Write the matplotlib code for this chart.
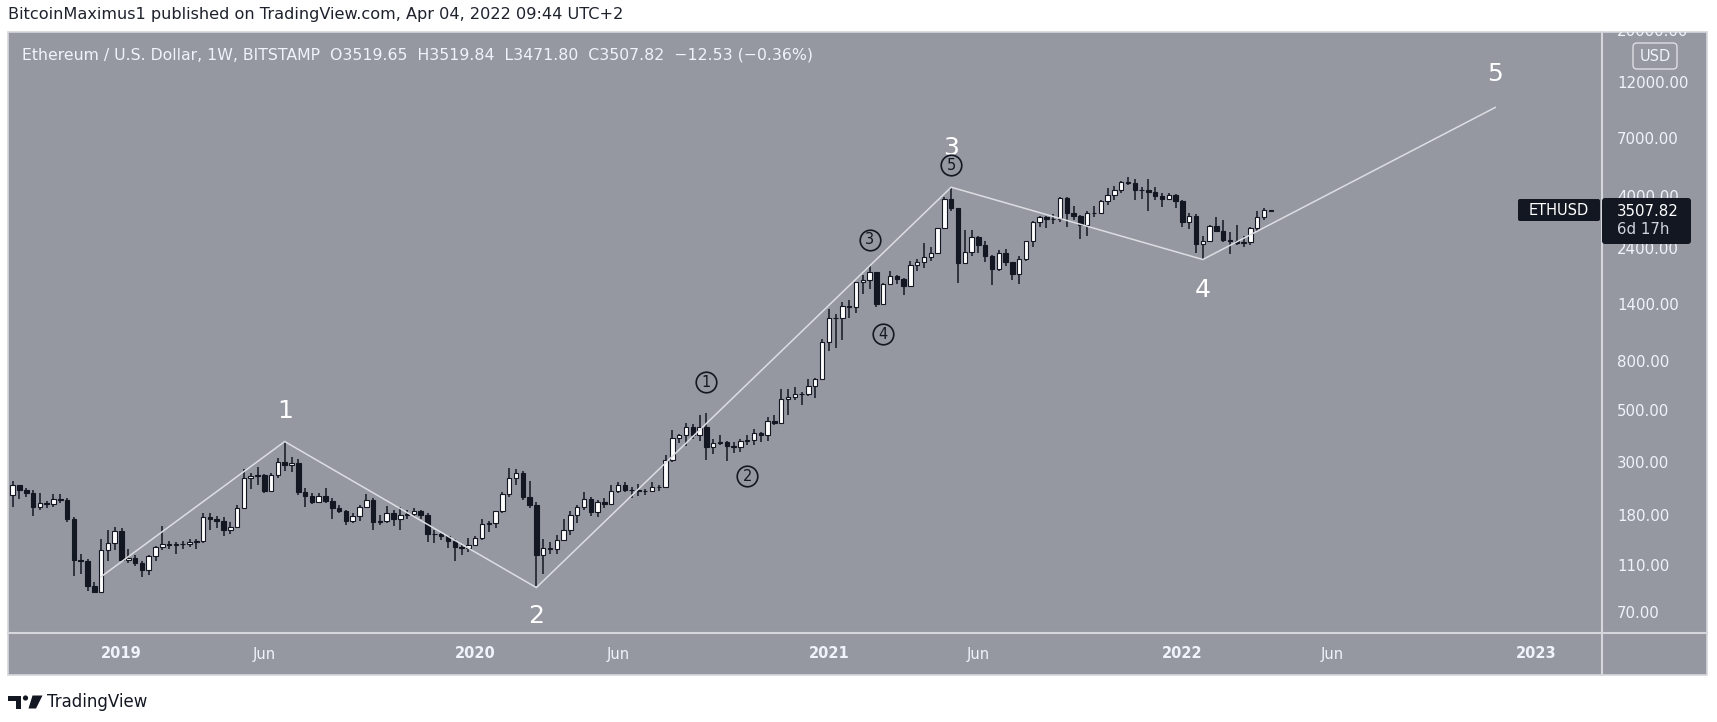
import numpy as np
import pandas as pd
import matplotlib
matplotlib.use("Agg")
import matplotlib.pyplot as plt
import matplotlib.dates as mdates
from matplotlib.patches import Rectangle, FancyBboxPatch, Circle, Polygon

W, H = 1717, 722

# weekly ETH/USD candles (BITSTAMP), first bar is the week of 2018-09-17
first_week = "2018-09-17"

opens = [
    # 2018
    221, 244, 232, 226, 196, 205, 203, 212, 210, 176, 118, 116, 91, 86, 130, 139,
    # 2019
    156, 118, 120, 114, 107, 122, 133, 137, 136, 138, 138, 140, 141, 178, 175, 172,
    157, 162, 195, 262, 265, 268, 230, 268, 305, 295, 302, 228, 220, 206, 220, 208,
    195, 190, 172, 180, 197, 211, 170, 172, 186, 175, 183, 184, 189, 182, 151, 152,
    148, 142, 133, 132,
    # 2020
    136, 146, 167, 168, 189, 223, 260, 274, 218, 200, 124, 132, 131, 143, 158, 183,
    197, 212, 187, 207, 203, 231, 245, 233, 232, 230, 229, 240, 239, 310, 385, 395,
    430, 396, 428, 353, 365, 370, 355, 352, 375, 378, 405, 395, 455, 447, 560, 575,
    590, 590, 640, 685,
    # 2021
    975, 1240, 1230, 1390, 1370, 1745, 1780, 1935, 1415, 1725, 1850, 1810, 1690, 2075,
    2135, 2230, 2320, 2950, 3930, 3580, 2100, 2350, 2710, 2510, 2250, 1980, 2320, 2125,
    1895, 2190, 2610, 3150, 3310, 3220, 3225, 3950, 3410, 3330, 3060, 3420, 3410, 3850,
    4060, 4290, 4610, 4570, 4300, 4290, 4190, 4050, 3920, 4060,
    # 2022
    3830, 3150, 3330, 2540, 2600, 3030, 2880, 2630, 2620, 2550, 2580, 2950, 3300, 3519.65,
]
highs = [
    254, 245, 236, 232, 225, 209, 223, 224, 215, 178, 125, 119, 95, 145, 158, 162,
    160, 131, 123, 116, 124, 135, 163, 142, 140, 141, 144, 145, 185, 185, 180, 178,
    170, 200, 285, 275, 290, 272, 275, 316, 372, 320, 315, 236, 226, 225, 236, 214,
    200, 192, 185, 200, 224, 215, 182, 198, 192, 197, 192, 195, 191, 185, 157, 153,
    149, 144, 136, 146,
    148, 175, 172, 190, 227, 288, 285, 280, 253, 206, 145, 140, 150, 175, 190, 200,
    227, 218, 210, 215, 245, 252, 250, 240, 247, 235, 250, 245, 325, 415, 400, 445,
    443, 480, 490, 380, 395, 375, 370, 380, 395, 420, 410, 470, 480, 620, 620, 630,
    600, 680, 690, 1010,
    1350, 1290, 1440, 1475, 1760, 1870, 2040, 1940, 1730, 1945, 1880, 1825, 2140, 2200,
    2550, 2450, 2970, 3990, 4380, 3600, 2900, 2890, 2740, 2600, 2280, 2400, 2410, 2130,
    2250, 2620, 3180, 3330, 3330, 3380, 4000, 4020, 3680, 3370, 3480, 3650, 3900, 4380,
    4460, 4665, 4870, 4770, 4400, 4780, 4430, 4140, 4140, 4130,
    3900, 3410, 3390, 2750, 3050, 3290, 3200, 2850, 3050, 2730, 2990, 3480, 3580, 3519.84,
]
lows = [
    196, 213, 216, 180, 192, 195, 196, 205, 170, 101, 103, 87, 85, 86, 116, 130,
    117, 114, 111, 100, 102, 117, 130, 131, 125, 131, 133, 131, 139, 157, 160, 149,
    152, 160, 194, 234, 245, 226, 228, 262, 280, 276, 222, 196, 202, 204, 205, 176,
    185, 165, 168, 172, 195, 157, 165, 168, 163, 158, 176, 178, 176, 140, 139, 143,
    132, 116, 124, 127,
    135, 143, 155, 160, 185, 218, 245, 210, 195, 91, 103, 125, 125, 142, 150, 168,
    192, 180, 178, 195, 200, 225, 228, 215, 220, 221, 227, 230, 237, 305, 365, 355,
    380, 373, 310, 330, 360, 308, 332, 335, 360, 360, 370, 375, 435, 445, 480, 555,
    530, 580, 565, 680,
    900, 920, 1000, 1230, 1300, 1555, 1640, 1370, 1410, 1700, 1720, 1550, 1680, 1950,
    2000, 2150, 2310, 2940, 3500, 1730, 2080, 2250, 2330, 2130, 1700, 1950, 2050, 1790,
    1720, 2150, 2450, 3000, 2950, 3070, 3150, 3000, 3200, 2650, 2740, 3280, 3380, 3700,
    3900, 4150, 4500, 3900, 3920, 3500, 3900, 3640, 3880, 3600,
    3000, 2930, 2330, 2160, 2580, 2850, 2580, 2300, 2500, 2450, 2500, 2880, 3200, 3471.80,
]
closes = [
    244, 232, 226, 196, 205, 203, 212, 210, 176, 118, 116, 91, 86, 130, 139, 156,
    118, 120, 114, 107, 122, 133, 137, 136, 138, 138, 140, 141, 178, 175, 172, 157,
    162, 195, 262, 265, 268, 230, 268, 305, 295, 302, 228, 220, 206, 220, 208, 195,
    190, 172, 180, 197, 211, 170, 172, 186, 175, 183, 184, 189, 182, 151, 152, 148,
    142, 133, 132, 136,
    146, 167, 168, 189, 223, 260, 274, 218, 200, 124, 132, 131, 143, 158, 183, 197,
    212, 187, 207, 203, 231, 245, 233, 232, 230, 229, 240, 239, 310, 385, 395, 430,
    396, 428, 353, 365, 370, 355, 352, 375, 378, 405, 395, 455, 447, 560, 575, 590,
    590, 640, 685, 975,
    1240, 1230, 1390, 1370, 1745, 1780, 1935, 1415, 1725, 1850, 1810, 1690, 2075, 2135,
    2230, 2320, 2950, 3930, 3580, 2100, 2350, 2710, 2510, 2250, 1980, 2320, 2125, 1895,
    2190, 2610, 3150, 3310, 3220, 3225, 3950, 3410, 3330, 3060, 3420, 3410, 3850, 4060,
    4290, 4610, 4570, 4300, 4290, 4190, 4050, 3920, 4060, 3830,
    3150, 3330, 2540, 2600, 3030, 2880, 2630, 2620, 2550, 2580, 2950, 3300, 3520, 3507.82,
]

# Elliott wave drawing (start, 1, 2, 3, 4, 5)
wave_dates = ["2018-12-17", "2019-06-24", "2020-03-09", "2021-05-10", "2022-01-24", "2022-11-21"]
wave_prices = [100, 372, 90, 4400, 2180, 9550]

wave_names = ["1", "2", "3", "4", "5"]
sub_names = ["1", "2", "3", "4", "5"]

price_ticks = [20000, 12000, 7000, 4000, 2400, 1400, 800, 500, 300, 180, 110, 70]
time_ticks = ["2019-01-07", "2019-06-03", "2020-01-06", "2020-06-01", "2021-01-04",
              "2021-06-07", "2022-01-03", "2022-06-06", "2023-01-02"]
time_labels = ["2019", "Jun", "2020", "Jun", "2021", "Jun", "2022", "Jun", "2023"]

# where the wave labels sit (date, price)
wave_label_pos = [("2019-06-24", 500), ("2020-03-09", 68), ("2021-05-10", 6450),
                  ("2022-01-24", 1620), ("2022-11-21", 13200)]
sub_label_pos = [("2020-08-31", 663), ("2020-10-12", 266), ("2021-02-15", 2640),
                 ("2021-03-01", 1057), ("2021-05-10", 5450)]

PANEL = "#9598a1"
DARK = "#131722"
LIGHT = "#f0f3fa"
SEP = "#d5d7dc"

plt.rcParams["font.family"] = "DejaVu Sans"

fig = plt.figure(figsize=(W / 100, H / 100), dpi=100)
fig.patch.set_facecolor("white")


def px_axes(z):
    a = fig.add_axes([0, 0, 1, 1], zorder=z)
    a.set_xlim(0, W)
    a.set_ylim(H, 0)
    a.set_axis_off()
    return a


def frac(l, t, r, b):
    return [l / W, 1 - b / H, (r - l) / W, (b - t) / H]


# background panel and separators (pixel coords)
bg = px_axes(0)
bg.add_patch(Rectangle((8, 32), 1699, 643, facecolor=PANEL, edgecolor=SEP, lw=1.2))
bg.plot([8, 1707], [633, 633], color=SEP, lw=1.5)
bg.plot([1602, 1602], [32, 675], color=SEP, lw=1.5)

ax = fig.add_axes(frac(8, 32, 1602, 633), zorder=1)
ax_r = fig.add_axes(frac(1602, 32, 1707, 633), zorder=1, sharey=ax)
ax_t = fig.add_axes(frac(8, 633, 1602, 675), zorder=1, sharex=ax)
for a in (ax, ax_r, ax_t):
    a.set_axis_off()

ax.set_yscale("log")
ax.set_ylim(57.9, 19875)
ax.set_xlim(mdates.datestr2num("2018-09-12 04:00"), mdates.datestr2num("2023-03-10 21:36"))

# candles
dates = pd.date_range(first_week, periods=len(opens), freq="7D")
x = mdates.date2num(dates)
o, h, l, c = map(np.asarray, (opens, highs, lows, closes))
up = c >= o
body_lo = np.minimum(o, c)
body_hi = np.maximum(o, c)
ax.vlines(x, l, h, color=DARK, lw=1.1, zorder=2)
ax.bar(x[up], body_hi[up] - body_lo[up], bottom=body_lo[up], width=4.6,
       color="white", edgecolor=DARK, linewidth=0.8, zorder=3)
ax.bar(x[~up], body_hi[~up] - body_lo[~up], bottom=body_lo[~up], width=4.6,
       color=DARK, edgecolor=DARK, linewidth=0.8, zorder=3)

# wave lines + labels
ax.plot(mdates.datestr2num(wave_dates), wave_prices, color="#dcdee3", lw=1.1, zorder=4)
for name, (d, p) in zip(wave_names, wave_label_pos):
    ax.text(mdates.datestr2num(d), p, name, color="white", fontsize=18,
            ha="center", va="center", zorder=6)
for name, (d, p) in zip(sub_names, sub_label_pos):
    xd = mdates.datestr2num(d)
    ax.plot(xd, p, marker="o", ms=14.8, mfc=PANEL, mec=DARK, mew=1.2, zorder=7)
    ax.text(xd, p, name, color=DARK, fontsize=10.5, ha="center", va="center", zorder=8)

# price scale
tr = ax_r.get_yaxis_transform()
for v in price_ticks:
    ax_r.text(0.143, v, f"{v:.2f}", transform=tr, color=LIGHT, fontsize=10.8,
              ha="left", va="center", clip_on=True)

# time scale
for d, s in zip(time_ticks, time_labels):
    ax_t.text(mdates.datestr2num(d), 0.5, s, color=LIGHT, fontsize=10.5,
              fontweight="bold" if s != "Jun" else "normal", ha="center", va="center")

# overlay: labels, boxes, header, logo
fg = px_axes(5)
fg.text(8, 14, "BitcoinMaximus1 published on TradingView.com, Apr 04, 2022 09:44 UTC+2",
        fontsize=11.6, color="#1e222d", ha="left", va="center")
fg.text(22, 55, "Ethereum / U.S. Dollar, 1W, BITSTAMP  O3519.65  H3519.84  L3471.80  "
        "C3507.82  \u221212.53 (\u22120.36%)",
        fontsize=11.3, color=LIGHT, ha="left", va="center")

fg.add_patch(FancyBboxPatch((1633, 43), 44, 26, boxstyle="round,pad=0,rounding_size=4",
                            fc=PANEL, ec="#dcdee3", lw=1))
fg.text(1655, 56.5, "USD", fontsize=10.5, color=LIGHT, ha="center", va="center")

fg.add_patch(FancyBboxPatch((1518, 199), 82, 22, boxstyle="round,pad=0,rounding_size=2",
                            fc=DARK, ec="none"))
fg.text(1559, 210.5, "ETHUSD", fontsize=10.5, color="white", ha="center", va="center")
fg.add_patch(FancyBboxPatch((1602, 198), 89, 46, boxstyle="round,pad=0,rounding_size=3",
                            fc=DARK, ec="none"))
fg.text(1617, 211, "3507.82", fontsize=10.8, color="white", ha="left", va="center")
fg.text(1617, 230, "6d 17h", fontsize=10.8, color="#d1d4dc", ha="left", va="center")

# TradingView logo
fg.add_patch(Rectangle((8, 695.5), 13, 5, fc=DARK, ec="none"))
fg.add_patch(Rectangle((15.5, 695.5), 5.5, 13, fc=DARK, ec="none"))
fg.add_patch(Circle((25.5, 698), 2.6, fc=DARK, ec="none"))
fg.add_patch(Polygon([(32.5, 695.5), (42.5, 695.5), (36, 708.5), (28.5, 708.5)],
                     closed=True, fc=DARK, ec="none"))
fg.text(47, 702, "TradingView", fontsize=12, color=DARK, ha="left", va="center")

fig.savefig("out.png", dpi=100, facecolor="white")
